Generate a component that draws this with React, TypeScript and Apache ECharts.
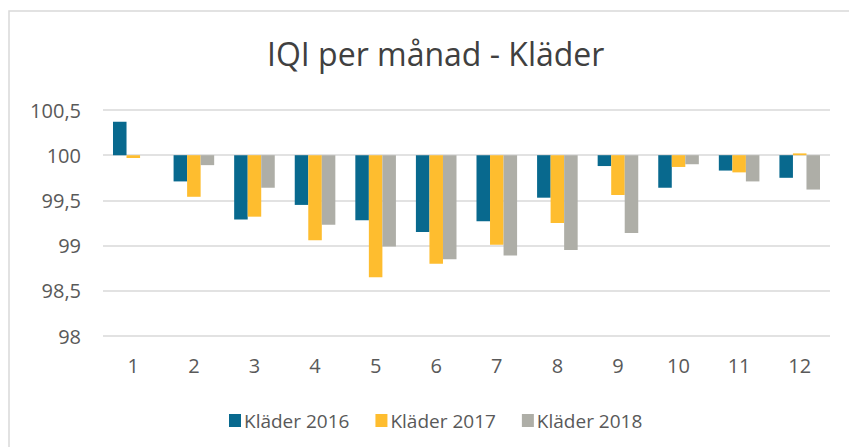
import React, { useEffect, useRef } from "react";
import * as echarts from "echarts";

const months = ["1", "2", "3", "4", "5", "6", "7", "8", "9", "10", "11", "12"];
const seriesNames = ["Kläder 2016", "Kläder 2017", "Kläder 2018"];
const klader2016 = [100.37, 99.71, 99.29, 99.45, 99.28, 99.15, 99.27, 99.53, 99.88, 99.64, 99.83, 99.75];
const klader2017 = [99.97, 99.54, 99.32, 99.06, 98.65, 98.8, 99.01, 99.25, 99.56, 99.87, 99.81, 100.02];
const klader2018 = [100, 99.89, 99.64, 99.23, 98.99, 98.85, 98.89, 98.95, 99.14, 99.9, 99.71, 99.62];
const baseline = 100;
const colors = ["#08698E", "#FEBD2F", "#AEAEA7"];

export default function App() {
  const ref = useRef<HTMLDivElement>(null);
  useEffect(() => {
    if (!ref.current) return;
    const chart = echarts.init(ref.current, undefined, { renderer: "svg" });
    const font = "'Open Sans', sans-serif";
    const data = [klader2016, klader2017, klader2018];
    chart.setOption({
      animation: false,
      backgroundColor: "#ffffff",
      title: {
        text: "IQI per månad - Kläder",
        left: 262,
        top: 32,
        textStyle: { fontFamily: font, fontSize: 32, fontWeight: "normal", color: "#404040" },
      },
      graphic: [
        {
          type: "rect",
          shape: { x: 9, y: 11, width: 850, height: 450 },
          style: { fill: "none", stroke: "#D9D9D9", lineWidth: 1.5 },
          silent: true,
        },
      ],
      legend: {
        data: seriesNames,
        left: 224,
        top: 406,
        itemWidth: 12,
        itemHeight: 13,
        itemGap: 26,
        icon: "rect",
        textStyle: { fontFamily: font, fontSize: 19, color: "#595959", padding: [0, 0, 0, -2] },
      },
      grid: { left: 103, right: 19, top: 110, bottom: 111, containLabel: false },
      xAxis: {
        type: "category",
        data: months,
        axisLine: { show: false, onZero: false },
        axisTick: { show: false },
        axisLabel: { fontFamily: font, fontSize: 20, color: "#595959", margin: 19 },
      },
      yAxis: {
        type: "value",
        min: -2,
        max: 0.5,
        interval: 0.5,
        axisLine: { show: false },
        axisTick: { show: false },
        splitLine: { lineStyle: { color: "#D9D9D9", width: 1.5 } },
        axisLabel: {
          fontFamily: font,
          fontSize: 20,
          color: "#595959",
          margin: 22,
          formatter: (v: number) => String(Number((baseline + v).toFixed(2))).replace(".", ","),
        },
      },
      series: seriesNames.map((name, i) => ({
        name,
        type: "bar",
        data: data[i].map((v) => Number((v - baseline).toFixed(4))),
        itemStyle: { color: colors[i] },
        barGap: "0%",
        barCategoryGap: "33%",
      })),
    });
    return () => chart.dispose();
  }, []);
  return (
    <div
      ref={ref}
      style={{ position: "fixed", left: 0, top: 0, width: 849, height: 447 }}
    />
  );
}
